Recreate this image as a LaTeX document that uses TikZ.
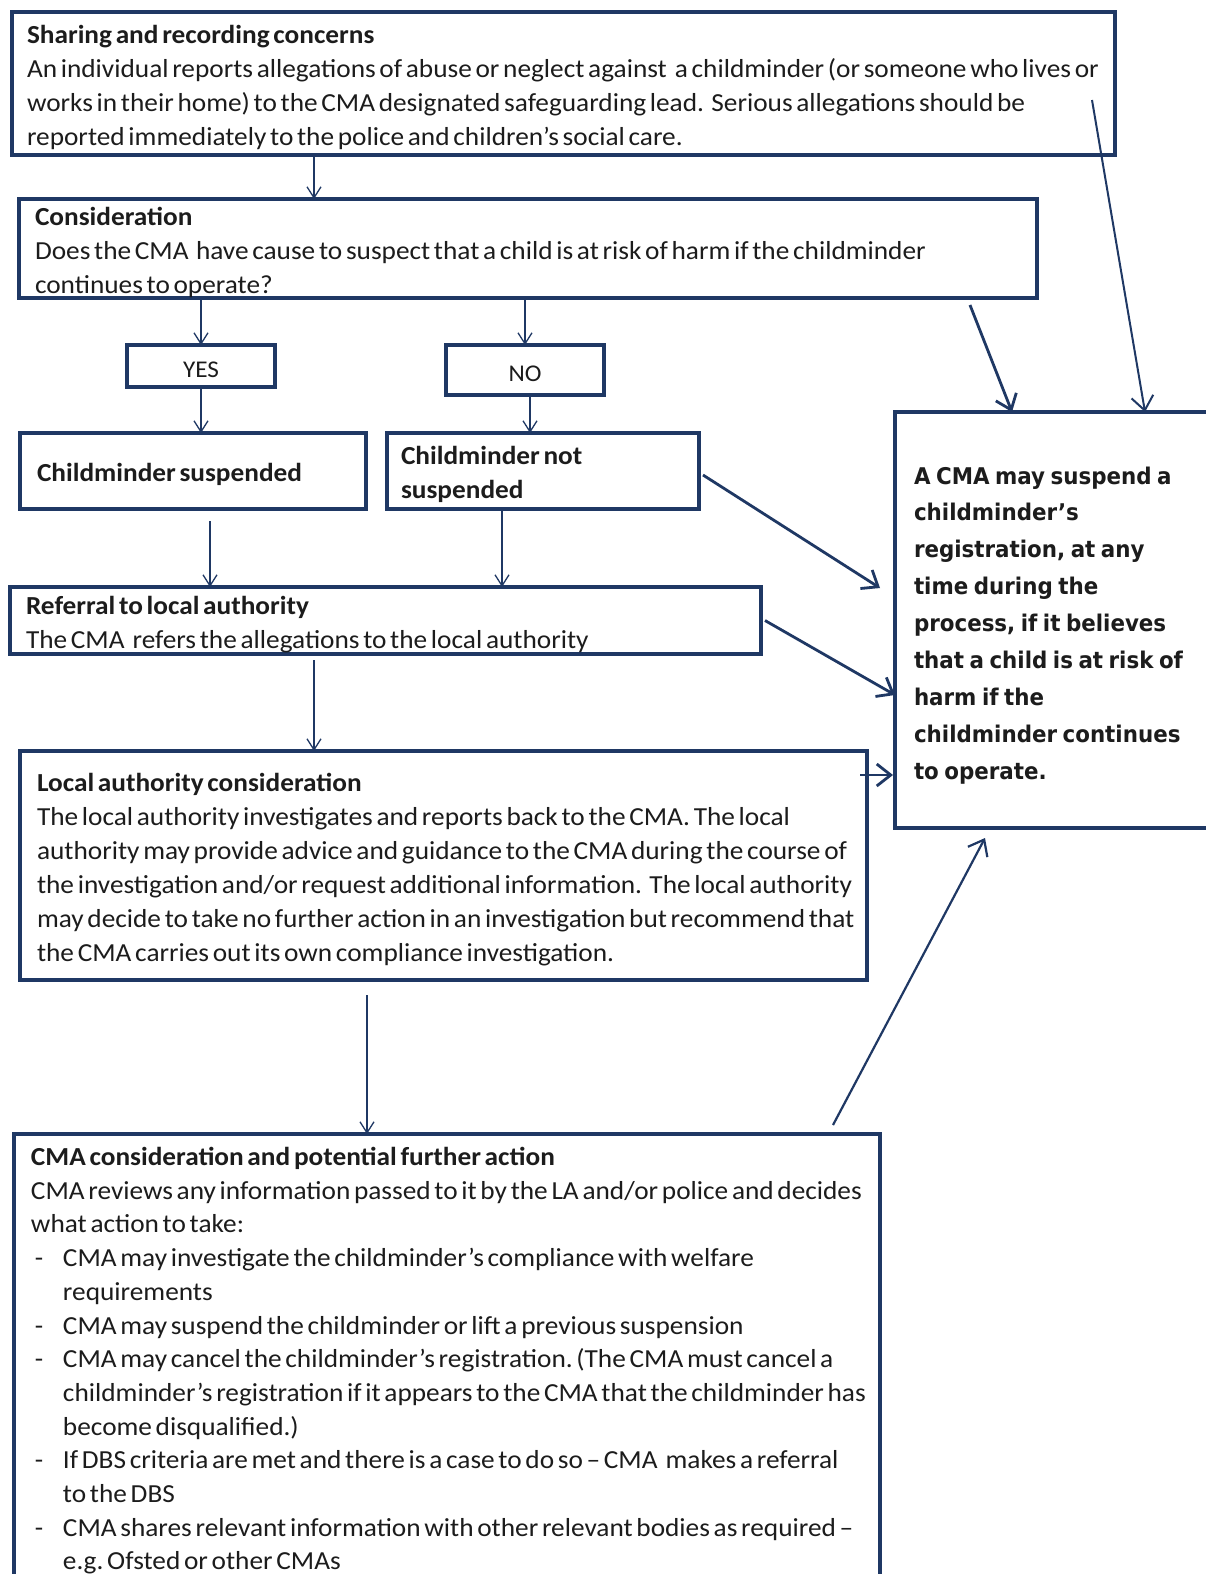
\documentclass[tikz,border=0pt]{standalone}
\usepackage{fontspec}
\setmainfont{Carlito}[FakeStretch=1.05]
\newfontfamily\sidefont{DejaVu Sans}[FakeStretch=0.93]
\usetikzlibrary{arrows.meta}
\definecolor{boxblue}{RGB}{31,56,100}
\definecolor{inkgray}{RGB}{28,28,28}
\newcommand{\dashitem}{\makebox[32pt][l]{\hspace*{4pt}-}}
\newcommand{\hangitem}{\hspace*{32pt}}
\newcommand{\boxtext}[2]{\frenchspacing\setlength{\leftskip}{#1}\setlength{\spaceskip}{3.7pt}\rule{0pt}{#2}}

\begin{document}
\begin{tikzpicture}[x=1pt,y=-1pt,
    box/.style={draw=boxblue,line width=4pt,anchor=north west,outer sep=0pt,
      align=left,inner xsep=5pt,inner ysep=0pt,text=inkgray,
      font=\fontsize{26}{34}\selectfont},
    body/.style={execute at begin node={\boxtext{#1}{26pt}}},
    thin link/.style={draw=boxblue,line width=1.3pt,
      -{Straight Barb[length=11pt,width=14pt,line width=1.3pt]}},
    bold link/.style={draw=boxblue,line width=2.8pt,
      -{Straight Barb[length=14pt,width=22pt]}}]
    \useasboundingbox (0,0) rectangle (1205,1574);
    \fill[white] (0,0) rectangle (1205,1574);

    % boxes down the left
    \node[box,body=10pt,text width=1093pt,minimum height=143pt] (share) at (12,12)
      {\textbf{Sharing and recording concerns}\\
       An individual reports allegations of abuse or neglect against \,a childminder (or someone who lives or\\
       works in their home) to the CMA designated safeguarding lead. \ Serious allegations should be\\
       reported immediately to the police and children’s social care.};
    \node[box,body=11pt,text width=1008pt,minimum height=99pt] (cons) at (19,199)
      {\textbf{Consideration}\\
       Does the CMA \ have cause to suspect that a child is at risk of harm if the childminder\\
       continues to operate?};
    \node[box,align=center,text width=148pt,inner xsep=0pt,minimum height=42pt,
      font=\fontsize{24}{30}\selectfont,execute at begin node=\rule{0pt}{23pt}] (yes) at (127,345) {YES};
    \node[box,align=center,text width=158pt,inner xsep=0pt,minimum height=50pt,
      font=\fontsize{24}{30}\selectfont,execute at begin node=\rule{0pt}{23pt}] (no) at (446,345) {NO};
    \node[box,body=12pt,text width=336pt,minimum height=76pt] (susp) at (20,433)
      {\textbf{Childminder suspended}};
    \node[box,body=9pt,text width=302pt,minimum height=76pt] (nots) at (387,433)
      {\textbf{Childminder not}\\ \textbf{suspended}};
    \node[box,body=11pt,text width=741pt,minimum height=67pt] (ref) at (10,587)
      {\textbf{Referral to local authority}\\
       The CMA \,refers the allegations to the local authority};
    \node[box,body=12pt,text width=837pt,minimum height=229pt] (la) at (20,751)
      {\textbf{Local authority consideration}\\
       The local authority investigates and reports back to the CMA. The local\\
       authority may provide advice and guidance to the CMA during the course of\\
       the investigation and/or request additional information. \ The local authority\\
       may decide to take no further action in an investigation but recommend that\\
       the CMA carries out its own compliance investigation.};
    \node[box,body=12pt,text width=856pt,minimum height=446pt,
      font=\fontsize{26}{33.7}\selectfont] (cma) at (14,1134)
      {\textbf{CMA consideration and potential further action}\\
       CMA reviews any information passed to it by the LA and/or police and decides\\
       what action to take:\\
       \dashitem CMA may investigate the childminder’s compliance with welfare\\
       \hangitem requirements\\
       \dashitem CMA may suspend the childminder or lift a previous suspension\\
       \dashitem CMA may cancel the childminder’s registration. (The CMA must cancel a\\
       \hangitem childminder’s registration if it appears to the CMA that the childminder has\\
       \hangitem become disqualified.)\\
       \dashitem If DBS criteria are met and there is a case to do so – CMA \,makes a referral\\
       \hangitem to the DBS\\
       \dashitem CMA shares relevant information with other relevant bodies as required –\\
       \hangitem e.g. Ofsted or other CMAs};

    % box on the right
    \node[box,text width=320pt,minimum height=416pt,
      font=\sidefont\bfseries\fontsize{23}{36.9}\selectfont,
      execute at begin node={\setlength{\leftskip}{14pt}\setlength{\spaceskip}{5.5pt}\rule{0pt}{28pt}}] (side) at (895,412)
      {A CMA may suspend a\\ childminder’s\\ registration, at any\\ time during the\\
       process, if it believes\\ that a child is at risk of\\ harm if the\\
       childminder continues\\ to operate.};

    % flow down
    \draw[thin link] ([xshift=302pt]share.south west) -- ([xshift=295pt]cons.north west);
    \draw[thin link] ([xshift=182pt]cons.south west) -- (yes.north);
    \draw[thin link] ([xshift=506pt]cons.south west) -- (no.north);
    \draw[thin link] (yes.south) -- ([xshift=181pt]susp.north west);
    \draw[thin link] ([xshift=5pt]no.south) -- ([xshift=143pt]nots.north west);
    \draw[thin link] ([shift={(190pt,-12pt)}]susp.south west) -- ([xshift=200pt]ref.north west);
    \draw[thin link] ([xshift=115pt]nots.south west) -- ([xshift=492pt]ref.north west);
    \draw[thin link] ([shift={(304pt,-6pt)}]ref.south west) -- ([xshift=294pt]la.north west);
    \draw[thin link] ([shift={(347pt,-15pt)}]la.south west) -- ([xshift=353pt]cma.north west);

    % into the right box
    \draw[bold link,line width=2pt] ([shift={(-23pt,-88pt)}]share.north east) -- ([xshift=250pt]side.north west);
    \draw[bold link] ([shift={(-67pt,-7pt)}]cons.south east) -- ([xshift=117pt]side.north west);
    \draw[bold link] ([shift={(4pt,-4pt)}]nots.east) -- ([shift={(-15pt,-176pt)}]side.north west);
    \draw[bold link] ([xshift=4pt]ref.east) -- ([yshift=-283pt]side.north west);
    \draw[bold link] ([shift={(-7pt,-24pt)}]la.north east) -- ([shift={(-2pt,-363pt)}]side.north west);
    \draw[bold link,line width=2.2pt] ([shift={(-47pt,9pt)}]cma.north east) -- ([shift={(90pt,-10pt)}]side.south west);
\end{tikzpicture}
\end{document}
